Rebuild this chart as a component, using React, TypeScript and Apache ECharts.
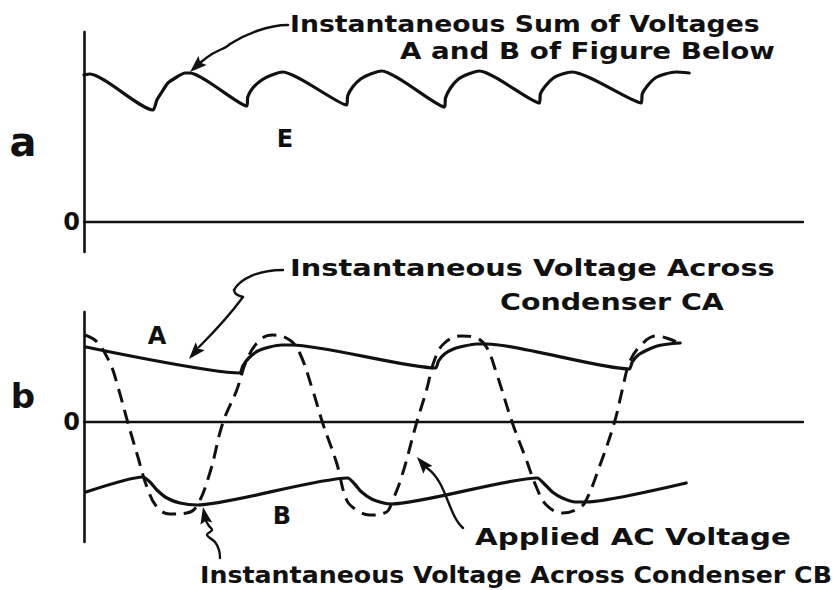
import React, { useEffect, useRef } from "react";
import * as echarts from "echarts";

// Panel a: instantaneous sum E (x in time units, y in volt units)
const sumE: [number, number][] = [
  [0, 14.7], [0.6, 14.8],
  [6.9, 11.2], [7.3, 12.2], [7.8, 13.0], [8.4, 13.9], [9.3, 14.5], [10.1, 14.9], [10.6, 14.9],
  [16.3, 11.6], [16.4, 12.5], [16.9, 13.4], [17.8, 14.2], [18.8, 14.7], [19.9, 15.0],
  [26.3, 11.7], [26.4, 12.6], [26.9, 13.5], [27.7, 14.3], [28.7, 14.8], [29.8, 15.1],
  [36.1, 11.5], [36.2, 12.4], [36.7, 13.4], [37.5, 14.3], [38.5, 14.8], [39.6, 15.1],
  [45.6, 11.9], [45.7, 12.8], [46.2, 13.6], [47.0, 14.4], [47.9, 14.8], [48.9, 15.0],
  [55.8, 11.9], [55.9, 12.8], [56.4, 13.6], [57.2, 14.4], [58.2, 14.8], [59.3, 15.0], [60.6, 14.9],
];

// Panel b: voltage across condenser CA
const condA: [number, number][] = [
  [0.2, 7.5],
  [15.6, 4.9], [15.9, 5.6], [16.5, 6.4], [17.4, 7.1], [18.6, 7.5], [19.8, 7.7], [20.9, 7.7],
  [35.2, 5.4], [35.5, 6.1], [36.1, 6.8], [37.0, 7.3], [38.1, 7.6], [39.3, 7.8], [40.4, 7.8],
  [54.6, 5.3], [54.9, 6.0], [55.5, 6.7], [56.4, 7.2], [57.4, 7.6], [58.6, 7.8], [59.7, 7.9],
];

// Panel b: voltage across condenser CB
const condB: [number, number][] = [
  [0.2, -7.0],
  [5.9, -5.5], [6.6, -6.0], [7.3, -6.8], [8.3, -7.6], [9.6, -8.1], [11.3, -8.3],
  [26.4, -5.6], [27.1, -6.2], [27.8, -7.0], [28.8, -7.7], [30.0, -8.1], [30.8, -8.2],
  [45.4, -5.6], [46.1, -6.2], [46.9, -7.0], [47.9, -7.6], [49.2, -8.0], [50.3, -8.0],
  [60.3, -6.1],
];

// Panel b: applied AC voltage (dashed)
const appliedAC: [number, number][] = [
  [0.1, 8.7], [1.3, 8.0], [2.6, 5.9], [3.4, 3.5], [4.4, -0.1], [5.4, -3.5], [6.3, -6.5],
  [7.3, -8.5], [8.6, -9.2], [10.3, -9.1], [11.3, -8.4], [12.6, -5.1], [13.9, -0.1],
  [15.3, 3.2], [16.3, 6.2], [17.6, 8.2], [18.9, 8.7], [20.6, 8.2], [21.6, 6.9],
  [22.9, 3.2], [23.9, -0.1], [25.3, -4.1], [26.3, -7.8], [27.3, -8.8], [28.6, -9.3],
  [30.3, -9.0], [30.8, -8.1], [31.8, -5.5], [33.3, -0.1], [34.3, 3.2], [35.1, 6.2],
  [36.1, 7.9], [37.8, 8.6], [39.3, 8.4], [40.3, 7.5], [41.3, 4.9], [42.9, -0.1],
  [44.3, -3.8], [45.3, -6.5], [46.3, -8.3], [47.9, -9.1], [49.6, -8.6], [50.3, -7.8],
  [51.6, -4.5], [53.1, -0.1], [53.9, 3.2], [54.6, 5.9], [55.6, 7.5], [57.3, 8.6],
  [58.9, 8.2], [59.4, 7.9],
];

const zeroTickLabel = "0";
const panelLabels = ["a", "b"];
const curveLabels = ["E", "A", "B"];
const notes = [
  "Instantaneous Sum of Voltages",
  "A and B of Figure Below",
  "Instantaneous Voltage Across",
  "Condenser CA",
  "Applied AC Voltage",
  "Instantaneous Voltage Across Condenser CB",
];

const INK = "#111";
const FONT = "'DejaVu Sans', sans-serif";
const NOTE_SIZE = 23;

let measureCtx: CanvasRenderingContext2D | null = null;
function measure(text: string, size: number, weight: string) {
  if (!measureCtx) measureCtx = document.createElement("canvas").getContext("2d");
  if (!measureCtx) return text.length * size * 0.6;
  measureCtx.font = `${weight} ${size}px 'DejaVu Sans'`;
  return measureCtx.measureText(text).width;
}

function txt(text: string, x: number, y: number, size: number, align = "left", weight = "bold") {
  return {
    type: "text",
    x,
    y,
    silent: true,
    style: {
      text,
      fontSize: size,
      fontFamily: FONT,
      fontWeight: weight,
      fill: INK,
      align,
      verticalAlign: "middle",
    },
  };
}

// text stretched to span [x0, x1]
function note(text: string, x0: number, x1: number, y: number) {
  const w = measure(text, NOTE_SIZE, "bold");
  const el: any = txt(text, x0, y, NOTE_SIZE, "left", "bold");
  el.scaleX = (x1 - x0) / w;
  return el;
}

function head(tx: number, ty: number, fx: number, fy: number, len = 17, hw = 6) {
  const dx = tx - fx;
  const dy = ty - fy;
  const d = Math.hypot(dx, dy) || 1;
  const ux = dx / d;
  const uy = dy / d;
  const bx = tx - ux * len;
  const by = ty - uy * len;
  return {
    type: "polygon",
    silent: true,
    shape: { points: [[tx, ty], [bx - uy * hw, by + ux * hw], [bx + ux * 3, by + uy * 3], [bx + uy * hw, by - ux * hw]] },
    style: { fill: INK },
  };
}

function bez(x1: number, y1: number, cpx1: number, cpy1: number, cpx2: number, cpy2: number, x2: number, y2: number) {
  return {
    type: "bezierCurve",
    silent: true,
    shape: { x1, y1, cpx1, cpy1, cpx2, cpy2, x2, y2 },
    style: { stroke: INK, lineWidth: 2.4, fill: null, lineCap: "round" },
  };
}

function pl(points: [number, number][]) {
  return {
    type: "polyline",
    silent: true,
    shape: { points, smooth: 0.4 },
    style: { stroke: INK, lineWidth: 2.4, fill: null, lineCap: "round", lineJoin: "round" },
  };
}

export default function App() {
  const ref = useRef<HTMLDivElement>(null);
  useEffect(() => {
    if (!ref.current) return;
    const chart = echarts.init(ref.current, undefined, { renderer: "svg" });
    const axisLine = { show: true, onZero: true, lineStyle: { color: INK, width: 2.6 } };
    const yLabel = {
      show: true,
      margin: 4,
      color: INK,
      fontSize: 24,
      fontWeight: "bold",
      fontFamily: FONT,
      formatter: (v: number) => (v === 0 ? zeroTickLabel : ""),
    };
    const solid = { color: INK, width: 3.2, cap: "round", join: "round" };
    chart.setOption({
      animation: false,
      backgroundColor: "#fff",
      grid: [
        { left: 84, top: 32, width: 719, height: 220 },
        { left: 84, top: 312, width: 719, height: 230 },
      ],
      xAxis: [0, 1].map((i) => ({
        type: "value",
        gridIndex: i,
        min: 0,
        max: 72,
        axisLine: { show: true, onZero: true, lineStyle: { color: INK, width: 2.4 } },
        axisTick: { show: false },
        axisLabel: { show: false },
        splitLine: { show: false },
      })),
      yAxis: [
        {
          type: "value",
          gridIndex: 0,
          min: -3,
          max: 19,
          interval: 1,
          axisLine,
          axisTick: { show: false },
          axisLabel: yLabel,
          splitLine: { show: false },
        },
        {
          type: "value",
          gridIndex: 1,
          min: -12,
          max: 11,
          interval: 1,
          axisLine,
          axisTick: { show: false },
          axisLabel: yLabel,
          splitLine: { show: false },
        },
      ],
      series: [
        {
          name: "E",
          type: "line",
          xAxisIndex: 0,
          yAxisIndex: 0,
          data: sumE,
          smooth: 0.2,
          showSymbol: false,
          lineStyle: solid,
        },
        {
          name: "A",
          type: "line",
          xAxisIndex: 1,
          yAxisIndex: 1,
          data: condA,
          smooth: 0.2,
          showSymbol: false,
          lineStyle: solid,
        },
        {
          name: "B",
          type: "line",
          xAxisIndex: 1,
          yAxisIndex: 1,
          data: condB,
          smooth: 0.2,
          showSymbol: false,
          lineStyle: solid,
        },
        {
          name: "Applied AC",
          type: "line",
          xAxisIndex: 1,
          yAxisIndex: 1,
          data: appliedAC,
          smooth: 0.4,
          showSymbol: false,
          lineStyle: { color: INK, width: 3, type: [14, 8] },
        },
      ],
      graphic: [
        txt(panelLabels[0], 23, 142, 40, "center", "bold"),
        txt(panelLabels[1], 23, 396, 34, "center", "bold"),
        txt(curveLabels[0], 285, 139, 24, "center"),
        txt(curveLabels[1], 157, 336, 24, "center"),
        txt(curveLabels[2], 282, 516, 24, "center"),
        note(notes[0], 290, 760, 24),
        note(notes[1], 400, 775, 51),
        note(notes[2], 290, 775, 268),
        note(notes[3], 500, 724, 302),
        note(notes[4], 475, 791, 537),
        note(notes[5], 200, 832, 575),
        // arrow to E
        bez(288, 25, 268, 25, 246, 34, 230, 44),
        pl([[230, 44], [226, 47], [222, 49], [212, 54], [201, 62]]),
        head(190, 72, 203, 60),
        // arrow to A
        bez(283, 270, 258, 270, 240, 279, 234, 290),
        pl([[234, 290], [236, 294], [243, 297]]),
        bez(243, 297, 232, 312, 214, 332, 199, 347),
        head(189, 359, 203, 343),
        // arrow to B
        pl([[220, 558], [219, 550], [215, 542], [207, 535], [212, 530], [209, 526], [206, 521]]),
        head(203, 507, 206, 522),
        // arrow to applied AC
        bez(463, 528, 448, 515, 447, 482, 427, 468),
        head(417, 457, 428, 470),
      ],
    });
    return () => chart.dispose();
  }, []);
  return (
    <div
      ref={ref}
      style={{ position: "absolute", left: 0, top: 0, width: 835, height: 590, background: "#fff" }}
    />
  );
}
